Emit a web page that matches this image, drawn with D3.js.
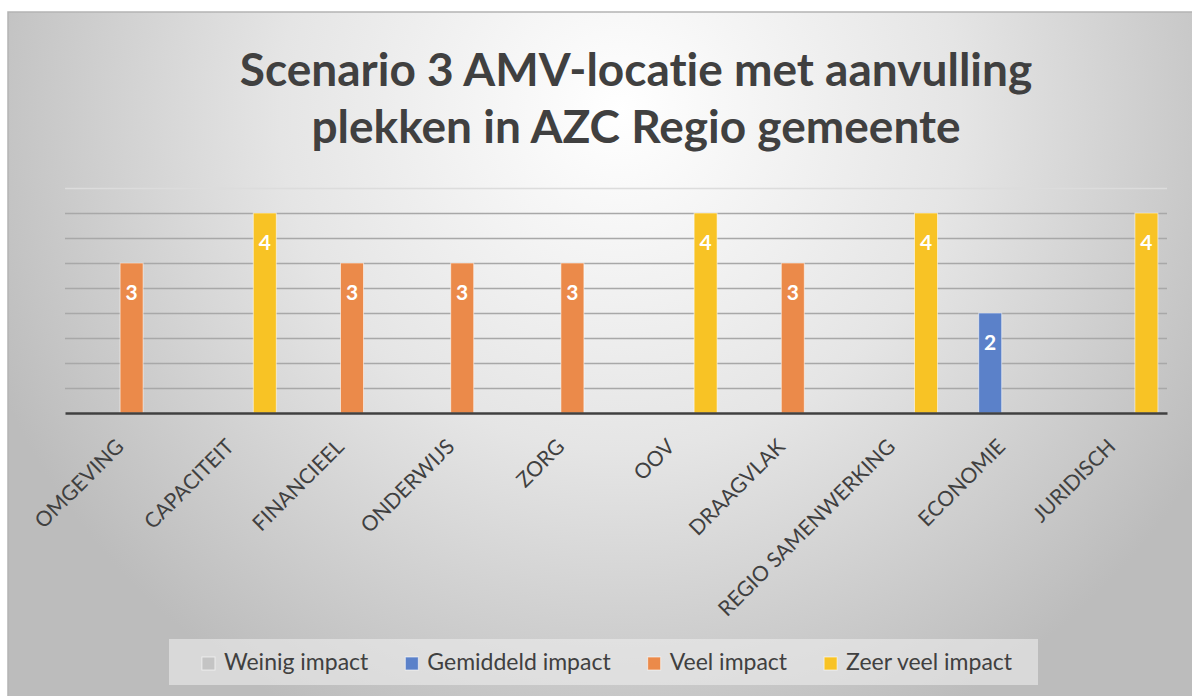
<!DOCTYPE html>
<html>
<head>
<meta charset="utf-8">
<style>
  body { margin: 0; background: #fff; }
  svg { display: block; font-family: Lato, "Open Sans", sans-serif; font-variant-ligatures: none; }
</style>
</head>
<body>
<svg width="1192" height="696"></svg>
<script src="https://cdnjs.cloudflare.com/ajax/libs/d3/7.8.5/d3.min.js"></script>
<script>

  // data
  var categories = ["OMGEVING", "CAPACITEIT", "FINANCIEEL", "ONDERWIJS", "ZORG", "OOV",
    "DRAAGVLAK", "REGIO SAMENWERKING", "ECONOMIE", "JURIDISCH"];
  var seriesNames = ["Weinig impact", "Gemiddeld impact", "Veel impact", "Zeer veel impact"];
  var weinigImpact    = [null, null, null, null, null, null, null, null, null, null];
  var gemiddeldImpact = [null, null, null, null, null, null, null, null, 2, null];
  var veelImpact      = [3, null, 3, 3, 3, null, 3, null, null, null];
  var zeerVeelImpact  = [null, 4, null, null, null, 4, null, 4, null, 4];
  var titleLines = ["Scenario 3 AMV-locatie met aanvulling", "plekken in AZC Regio gemeente"];

  var seriesValues = [weinigImpact, gemiddeldImpact, veelImpact, zeerVeelImpact];
  var colors = ["#c4c4c4", "#5b81c9", "#eb8a4a", "#f8c325"];

  var svg = d3.select("svg"),
    W = +svg.attr("width"),
    H = +svg.attr("height");

  // background with a radial gradient, like the office theme
  var defs = svg.append("defs");
  var grad = defs.append("radialGradient")
    .attr("id", "bg")
    .attr("gradientUnits", "userSpaceOnUse")
    .attr("cx", 620).attr("cy", 110).attr("r", 680);
  grad.append("stop").attr("offset", "0").attr("stop-color", "#ffffff");
  grad.append("stop").attr("offset", "0.5").attr("stop-color", "#e5e5e5");
  grad.append("stop").attr("offset", "1").attr("stop-color", "#bcbcbc");

  svg.append("rect")
    .attr("x", 8).attr("y", 12)
    .attr("width", W).attr("height", H)
    .attr("fill", "url(#bg)")
    .attr("stroke", "#b4b4b4")
    .attr("stroke-width", 1.5);

  var x0 = d3.scaleBand()
    .domain(categories)
    .range([65, 1167])
    .paddingInner(0.165)
    .paddingOuter(0.0825);

  var x1 = d3.scaleBand()
    .domain(d3.range(seriesNames.length))
    .range([0, x0.bandwidth()]);

  var y = d3.scaleLinear()
    .domain([0, 4.5])
    .range([413, 188]);

  // gridlines
  var grid = svg.append("g")
    .attr("transform", "translate(65,0)")
    .call(d3.axisLeft(y).ticks(9).tickSize(-1102).tickFormat(""));
  grid.select(".domain").remove();
  grid.selectAll(".tick line")
    .attr("stroke", function (d) { return d === 4.5 ? "#dcdcdc" : "#a8a8a8"; })
    .attr("stroke-width", 1.3)
    .filter(function (d) { return d === 0; }).remove();

  // bars
  var groups = svg.append("g").selectAll("g")
    .data(categories)
    .join("g")
    .attr("transform", function (d) { return "translate(" + x0(d) + ",0)"; });

  var cells = groups.selectAll("g")
    .data(function (c, i) {
      return seriesValues.map(function (s, k) { return { k: k, value: s[i] }; })
        .filter(function (d) { return d.value != null; });
    })
    .join("g");

  cells.append("rect")
    .attr("x", function (d) { return x1(d.k); })
    .attr("width", x1.bandwidth())
    .attr("y", function (d) { return y(d.value); })
    .attr("height", function (d) { return y(0) - y(d.value); })
    .attr("fill", function (d) { return colors[d.k]; })
    .attr("stroke", "rgba(255,255,255,0.55)")
    .attr("stroke-width", 1);

  cells.append("text")
    .attr("x", function (d) { return x1(d.k) + x1.bandwidth() / 2; })
    .attr("y", function (d) { return y(d.value) + 37; })
    .attr("text-anchor", "middle")
    .attr("fill", "#fff")
    .attr("font-weight", 700)
    .attr("font-size", 21)
    .text(function (d) { return d.value; });

  // x axis
  var xAxis = svg.append("g")
    .attr("transform", "translate(0," + y(0) + ")")
    .call(d3.axisBottom(x0).tickSize(0).tickPadding(0));
  xAxis.select(".domain")
    .attr("stroke", "#404040")
    .attr("stroke-width", 2.5);
  xAxis.selectAll(".tick text")
    .attr("font-family", "Lato, sans-serif")
    .attr("font-size", 21)
    .attr("fill", "#404040")
    .attr("text-anchor", "end")
    .attr("dy", 0)
    .attr("y", 0)
    .attr("transform", "translate(5,35) rotate(-45)");

  // title
  svg.append("g").selectAll("text")
    .data(titleLines)
    .join("text")
    .attr("x", 636)
    .attr("y", function (d, i) { return 86 + i * 57; })
    .attr("text-anchor", "middle")
    .attr("font-weight", 700)
    .attr("font-size", 46)
    .attr("fill", "#404040")
    .text(function (d) { return d; });

  // legend
  svg.append("rect")
    .attr("x", 169).attr("y", 639)
    .attr("width", 869).attr("height", 46)
    .attr("fill", "rgba(240,240,240,0.55)");

  var legend = svg.append("g");
  var items = legend.selectAll("g")
    .data(seriesNames)
    .join("g");
  items.append("rect")
    .attr("y", 657)
    .attr("width", 13).attr("height", 13)
    .attr("fill", function (d, i) { return colors[i]; })
    .attr("stroke", "rgba(255,255,255,0.6)");
  items.append("text")
    .attr("x", 22)
    .attr("y", 670)
    .attr("font-size", 23)
    .attr("fill", "#404040")
    .text(function (d) { return d; });

  var pos = 0, offsets = [];
  items.each(function () {
    offsets.push(pos);
    pos += 22 + d3.select(this).select("text").node().getComputedTextLength() + 37;
  });
  var total = pos - 37, start = 607 - total / 2;
  items.attr("transform", function (d, i) { return "translate(" + (start + offsets[i]) + ",0)"; });

</script>
</body>
</html>
